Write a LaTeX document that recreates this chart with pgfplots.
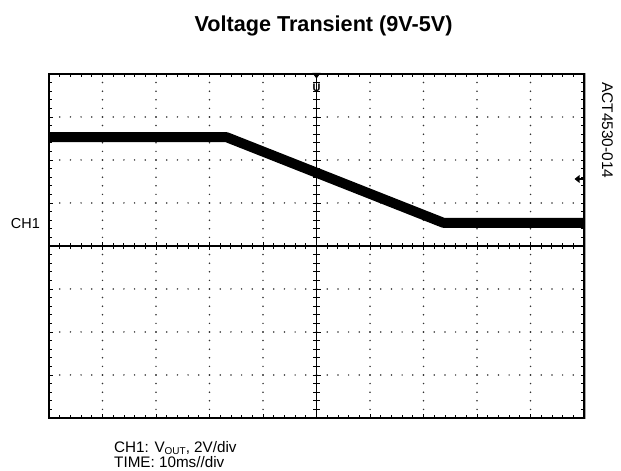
\documentclass[border=0pt]{standalone}
\usepackage{fontspec}
\setmainfont{Liberation Sans}
\usepackage{pgfplots}
\pgfplotsset{compat=1.18}
\begin{document}
\begin{tikzpicture}[x=1bp,y=1bp]
\path[use as bounding box] (0,0) rectangle (621,471);
% main screen: border, border ticks, dotted grid, trace
\begin{axis}[
  at={(49bp,53bp)}, anchor=south west,
  scale only axis, width=535bp, height=344bp,
  xmin=-5, xmax=5, ymin=-4, ymax=4,
  xtick={-5,...,5}, ytick={-4,...,4},
  minor x tick num=4, minor y tick num=4,
  xticklabels={}, yticklabels={},
  tick align=inside, tick pos=both,
  major tick length=3.5bp, minor tick length=3bp,
  tick style={black, line width=0.8bp},
  axis line style={black, line width=2.2bp},
  grid=major,
  major x grid style={black!80, line width=1.7bp, line cap=round, dash pattern=on 0bp off 8.6bp},
  major y grid style={black!80, line width=1.7bp, line cap=round, dash pattern=on 0bp off 10.7bp},
]
\addplot[black, line width=10bp, line join=round] coordinates {
  (-5.2,2.53) (-1.68,2.53) (2.37,0.54) (5.2,0.54)
};
\end{axis}
% centre cross with ticks
\begin{axis}[
  at={(49bp,53bp)}, anchor=south west,
  scale only axis, width=535bp, height=344bp,
  xmin=-5, xmax=5, ymin=-4, ymax=4,
  axis lines=middle,
  axis line style={-, black, line width=1.5bp},
  every inner x axis line/.append style={-},
  every inner y axis line/.append style={-},
  xtick={-5,...,5}, ytick={-4,...,4},
  minor x tick num=4, minor y tick num=4,
  xticklabels={}, yticklabels={},
  tick align=center,
  major tick length=8bp, minor tick length=6.5bp,
  tick style={black, line width=0.9bp},
]
\end{axis}
% shadow of right border
\draw[black!35, line width=1.5bp] (585.6,52) -- (585.6,398);
% trigger position marker (top)
\fill (312.3,398) -- (320.7,398) -- (316.5,392.5) -- cycle;
\node[font=\bfseries\fontsize{11}{12}\selectfont, inner sep=0pt] at (316.5,383.5) {U};
% trigger level marker (right)
\fill (574.5,292) -- (579.5,296) -- (579.5,288) -- cycle;
\draw[line width=1.8bp] (578,292) -- (584,292);
% texts
\node[anchor=base, inner sep=0pt, font=\bfseries\fontsize{21.7}{26}\selectfont] at (323.5,439.5) {Voltage Transient (9V-5V)};
\node[anchor=base east, inner sep=0pt, font=\fontsize{14.5}{17}\selectfont] at (40,242) {CH1};
\node[anchor=base west, inner sep=0pt, font=\fontsize{15.3}{17}\selectfont] at (114,18.3) {CH1: V\raisebox{-1.8bp}{\fontsize{10}{10}\selectfont OUT}, 2V/div};
\node[anchor=base west, inner sep=0pt, font=\fontsize{15.3}{17}\selectfont] at (114,3.2) {TIME: 10ms//div};
\node[rotate=-90, anchor=base west, inner sep=0pt, font=\fontsize{15.5}{18}\selectfont] at (602,389) {ACT4530-014};
\end{tikzpicture}
\end{document}
